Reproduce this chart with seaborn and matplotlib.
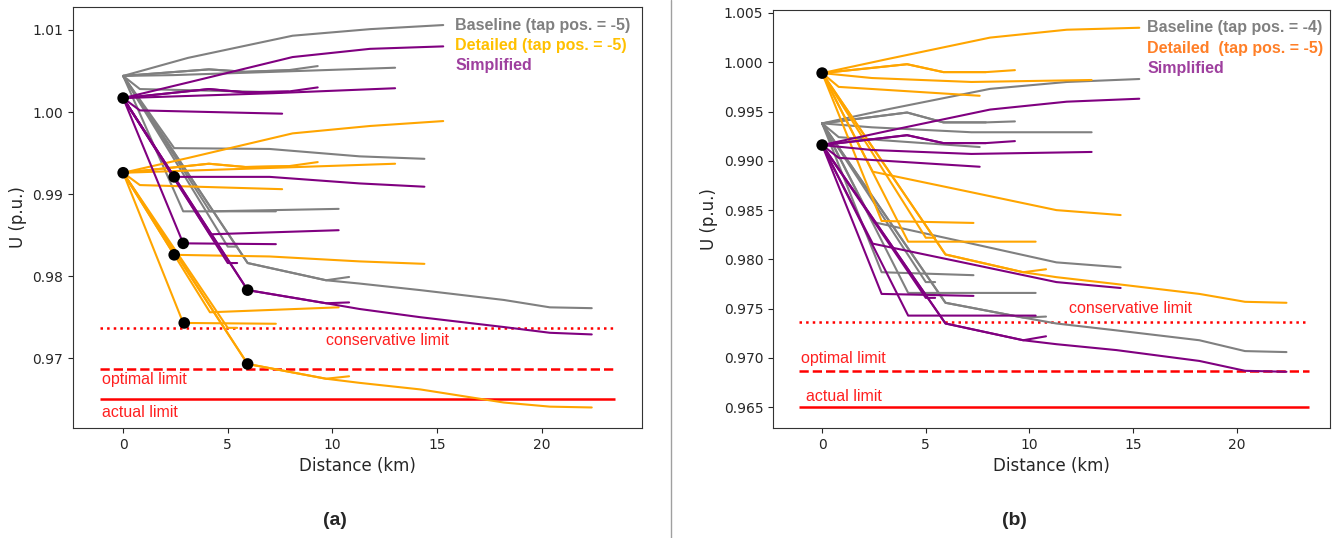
import matplotlib
matplotlib.use("Agg")
import matplotlib.pyplot as plt
from matplotlib.lines import Line2D
import seaborn as sns
import pandas as pd

# ---------------- data ----------------
# shared feeder topology: distance (km) of each root-to-leaf path
PATH_X = [
    [0, 3.1, 8.1, 11.8, 15.3],
    [0, 4.1, 5.85, 7.9],
    [0, 4.1, 5.85, 7.9, 9.3],
    [0, 2.4, 7.2, 13.0],
    [0, 0.8, 7.6],
    [0, 2.44, 7.0, 11.3, 14.4],
    [0, 2.87, 7.3],
    [0, 4.15, 10.3],
    [0, 5.95, 9.7, 11.3, 14.2, 18.2, 20.4, 22.4],
    [0, 5.95, 9.7, 10.8],
    [0, 5.0, 5.45],
]

# panel (a) voltages (p.u.)
A_BASE = [
    [1.0044, 1.0066, 1.0093, 1.0101, 1.0106],
    [1.0044, 1.0052, 1.0049, 1.0051],
    [1.0044, 1.0052, 1.0049, 1.0051, 1.0056],
    [1.0044, 1.0045, 1.0049, 1.0054],
    [1.0044, 1.0028, 1.0024],
    [1.0044, 0.9956, 0.9955, 0.9946, 0.9943],
    [1.0044, 0.9879, 0.9879],
    [1.0044, 0.9879, 0.9882],
    [1.0044, 0.9816, 0.9795, 0.9791, 0.9783, 0.9771, 0.9762, 0.9761],
    [1.0044, 0.9816, 0.9795, 0.9799],
    [1.0044, 0.9836, 0.9836],
]
A_DET = [
    [0.9926, 0.9944, 0.9974, 0.9983, 0.9989],
    [0.9926, 0.9937, 0.9933, 0.9934],
    [0.9926, 0.9937, 0.9933, 0.9934, 0.9939],
    [0.9926, 0.9928, 0.9932, 0.9937],
    [0.9926, 0.9911, 0.9906],
    [0.9926, 0.9826, 0.9824, 0.9818, 0.9815],
    [0.9926, 0.9743, 0.9742],
    [0.9926, 0.9756, 0.9762],
    [0.9926, 0.9693, 0.9675, 0.9670, 0.9662, 0.9646, 0.9641, 0.9640],
    [0.9926, 0.9693, 0.9675, 0.9678],
    [0.9926, 0.9737, 0.9737],
]
A_SIMP = [
    [1.0017, 1.0036, 1.0067, 1.0077, 1.0080],
    [1.0017, 1.0028, 1.0024, 1.0025],
    [1.0017, 1.0028, 1.0024, 1.0025, 1.0030],
    [1.0017, 1.0019, 1.0023, 1.0029],
    [1.0017, 1.0002, 0.9998],
    [1.0017, 0.9921, 0.9921, 0.9913, 0.9909],
    [1.0017, 0.9840, 0.9839],
    [1.0017, 0.9851, 0.9856],
    [1.0017, 0.9783, 0.9767, 0.9760, 0.9750, 0.9738, 0.9731, 0.9729],
    [1.0017, 0.9783, 0.9767, 0.9768],
    [1.0017, 0.9816, 0.9816],
]

# panel (b) voltages (p.u.)
B_BASE = [
    [0.9938, 0.9952, 0.9973, 0.9980, 0.9983],
    [0.9938, 0.9949, 0.9939, 0.9939],
    [0.9938, 0.9949, 0.9939, 0.9939, 0.9940],
    [0.9938, 0.9934, 0.9929, 0.9929],
    [0.9938, 0.9924, 0.9914],
    [0.9938, 0.9838, 0.9817, 0.9797, 0.9792],
    [0.9938, 0.9787, 0.9784],
    [0.9938, 0.9766, 0.9766],
    [0.9938, 0.9756, 0.9741, 0.9735, 0.9728, 0.9718, 0.9707, 0.9706],
    [0.9938, 0.9756, 0.9741, 0.9742],
    [0.9938, 0.9777, 0.9777],
]
B_DET = [
    [0.9989, 1.0003, 1.0025, 1.0033, 1.0035],
    [0.9989, 0.9998, 0.9990, 0.9990],
    [0.9989, 0.9998, 0.9990, 0.9990, 0.9992],
    [0.9989, 0.9984, 0.9980, 0.9982],
    [0.9989, 0.9975, 0.9966],
    [0.9989, 0.9889, 0.9869, 0.9850, 0.9845],
    [0.9989, 0.9839, 0.9837],
    [0.9989, 0.9818, 0.9818],
    [0.9989, 0.9805, 0.9787, 0.9782, 0.9775, 0.9765, 0.9757, 0.9756],
    [0.9989, 0.9805, 0.9787, 0.9790],
    [0.9989, 0.9822, 0.9822],
]
B_SIMP = [
    [0.9916, 0.9930, 0.9952, 0.9960, 0.9963],
    [0.9916, 0.9926, 0.9918, 0.9918],
    [0.9916, 0.9926, 0.9918, 0.9918, 0.9920],
    [0.9916, 0.9911, 0.9907, 0.9909],
    [0.9916, 0.9903, 0.9894],
    [0.9916, 0.9816, 0.9796, 0.9777, 0.9771],
    [0.9916, 0.9765, 0.9763],
    [0.9916, 0.9743, 0.9743],
    [0.9916, 0.9735, 0.9718, 0.9714, 0.9708, 0.9697, 0.9687, 0.9686],
    [0.9916, 0.9735, 0.9718, 0.9722],
    [0.9916, 0.9761, 0.9761],
]

# highlighted buses (black dots)
A_DOT_X = [0, 2.44, 2.87, 5.95, 0, 2.44, 2.92, 5.95]
A_DOT_V = [1.0017, 0.9921, 0.9840, 0.9783, 0.9926, 0.9826, 0.9743, 0.9693]
B_DOT_X = [0, 0]
B_DOT_V = [0.9989, 0.9916]

# voltage limits
LIMIT_V = [0.9737, 0.9687, 0.9650]
LIMIT_NAMES = ["conservative limit", "optimal limit", "actual limit"]
LIMIT_STYLES = [":", "--", "-"]

A_LABELS = ["Baseline (tap pos. = -5)", "Detailed (tap pos. = -5)", "Simplified"]
B_LABELS = ["Baseline (tap pos. = -4)", "Detailed  (tap pos. = -5)", "Simplified"]

# ---------------- styling ----------------
sns.set_style("ticks")
plt.rcParams["font.family"] = ["DejaVu Sans"]
LINE_COLORS = ["#808080", "#FFA500", "#800080"]  # baseline, detailed, simplified
A_TEXT_COLORS = ["#808080", "#FFC000", "#9E3F9E"]
B_TEXT_COLORS = ["#808080", "#FF7F27", "#9E3F9E"]


def to_frame(volts):
    rows = []
    for pid, (xs, vs) in enumerate(zip(PATH_X, volts)):
        for x, v in zip(xs, vs):
            rows.append({"path": pid, "x": x, "v": v})
    return pd.DataFrame(rows)


fig = plt.figure(figsize=(13.36, 5.38), dpi=100)
ax_a = fig.add_axes([0.0546, 0.2045, 0.4259, 0.7825])
ax_b = fig.add_axes([0.5786, 0.2045, 0.4169, 0.7769])


def draw_panel(ax, series, dots_x, dots_v, labels, text_colors, limit_text_pos,
               xlim, ylim, yticks, yfmt):
    # limit lines
    for v, st in zip(LIMIT_V, LIMIT_STYLES):
        ax.hlines(v, -1.1, 23.5, colors="red", linestyles=st, lw=1.8, zorder=1)
    for name, (tx, ty) in zip(LIMIT_NAMES, limit_text_pos):
        ax.text(tx, ty, name, color="#FF2020", fontsize=11.5, va="center",
                ha="left", family="Liberation Sans")
    # voltage profiles
    for volts, col in zip(series, LINE_COLORS):
        df = to_frame(volts)
        sns.lineplot(data=df, x="x", y="v", units="path", estimator=None,
                     sort=False, color=col, lw=1.5, ax=ax, legend=False,
                     zorder=2)
    sns.scatterplot(x=dots_x, y=dots_v, color="black", s=70, ax=ax,
                    edgecolor="none", zorder=5, legend=False)
    # text legend
    for i, (lab, tc) in enumerate(zip(labels, text_colors)):
        ax.text(0.672, 0.957 - i * 0.048, lab, transform=ax.transAxes,
                color=tc, fontsize=11.5, fontweight="bold", va="center",
                ha="left", family="Liberation Sans")
    ax.set_xlim(*xlim)
    ax.set_ylim(*ylim)
    ax.set_xticks([0, 5, 10, 15, 20])
    ax.set_yticks(yticks)
    ax.set_yticklabels([yfmt.format(t) for t in yticks])
    ax.set_xlabel("Distance (km)", fontsize=12)
    ax.set_ylabel("U (p.u.)", fontsize=12)
    ax.tick_params(labelsize=10)
    for sp in ax.spines.values():
        sp.set_visible(True)
        sp.set_color("#333333")


draw_panel(ax_a, [A_BASE, A_DET, A_SIMP], A_DOT_X, A_DOT_V, A_LABELS,
           A_TEXT_COLORS,
           [(9.7, 0.9722), (-1.0, 0.9674), (-1.0, 0.9634)],
           (-2.4, 24.8), (0.9615, 1.0128),
           [0.97, 0.98, 0.99, 1.00, 1.01], "{:.2f}")
draw_panel(ax_b, [B_BASE, B_DET, B_SIMP], B_DOT_X, B_DOT_V, B_LABELS,
           B_TEXT_COLORS,
           [(11.9, 0.9750), (-1.0, 0.9699), (-0.8, 0.9661)],
           (-2.37, 24.5), (0.9629, 1.0053),
           [0.965, 0.970, 0.975, 0.980, 0.985, 0.990, 0.995, 1.000, 1.005],
           "{:.3f}")

fig.text(0.2508, 0.032, "(a)", fontsize=14, fontweight="bold", ha="center",
         va="center", family="Liberation Sans")
fig.text(0.759, 0.032, "(b)", fontsize=14, fontweight="bold", ha="center",
         va="center", family="Liberation Sans")
fig.add_artist(Line2D([0.502, 0.502], [0.0, 1.0], color="#A0A0A0", lw=1.0,
                      transform=fig.transFigure))

fig.savefig("out.png", dpi=100)
